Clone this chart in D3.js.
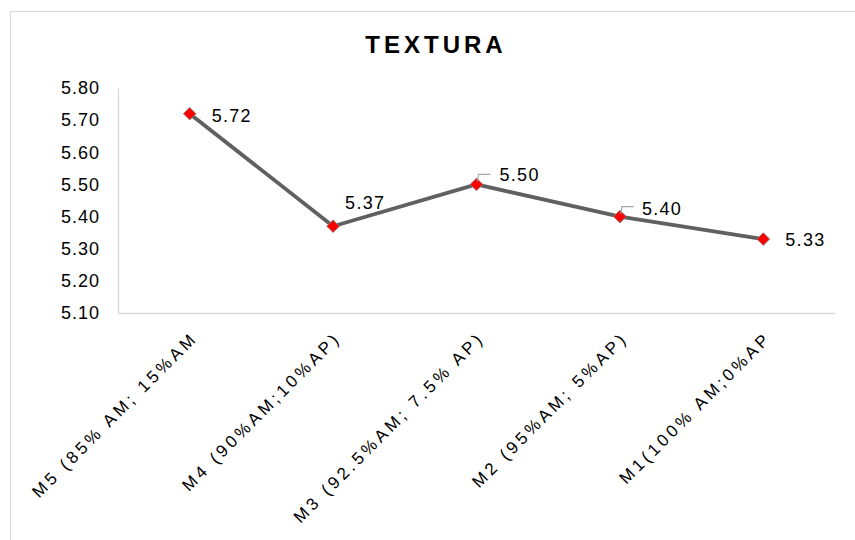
<!DOCTYPE html>
<html>
<head>
<meta charset="utf-8">
<script src="https://cdn.jsdelivr.net/npm/d3@7"></script>
<style>
  html, body { margin: 0; padding: 0; background: #fff; }
  text { font-family: "Liberation Sans", Arial, sans-serif; fill: #000; }
</style>
</head>
<body>
<script>
const title = 'TEXTURA';
const categories = [
  'M5 (85% AM; 15%AM',
  'M4 (90%AM;10%AP)',
  'M3 (92.5%AM; 7.5% AP)',
  'M2 (95%AM; 5%AP)',
  'M1(100% AM;0%AP'
];
const values = [5.72, 5.37, 5.50, 5.40, 5.33];
const yTicks = [5.10, 5.20, 5.30, 5.40, 5.50, 5.60, 5.70, 5.80];

// where each data label sits relative to its point (dx, dy), and if it has a leader line
const labelPos = [
  { dx: 22, dy: 8, leader: false },
  { dx: 12, dy: -17, leader: false },
  { dx: 23, dy: -3, leader: true },
  { dx: 22, dy: -2, leader: true },
  { dx: 22, dy: 7, leader: false }
];

const width = 855;
const height = 540;

const svg = d3.select('body')
  .append('svg')
  .attr('width', width)
  .attr('height', height);

// chart area border (runs off the right / bottom of the picture)
svg.append('rect')
  .attr('x', 10.5)
  .attr('y', 11.5)
  .attr('width', 900)
  .attr('height', 600)
  .attr('fill', '#fff')
  .attr('stroke', '#d9d9d9')
  .attr('stroke-width', 1.2);

const x = d3.scaleBand().domain(categories).range([118, 835]).padding(0);
const y = d3.scaleLinear().domain([5.1, 5.8]).range([313, 88]);

svg.append('text')
  .attr('x', 436)
  .attr('y', 53)
  .attr('text-anchor', 'middle')
  .style('font-size', '24px')
  .style('font-weight', 'bold')
  .style('letter-spacing', '4px')
  .text(title);

// y axis
const yAxis = svg.append('g')
  .attr('transform', 'translate(118,0)')
  .call(d3.axisLeft(y).tickValues(yTicks).tickFormat(d3.format('.2f')).tickSize(0).tickPadding(18));
yAxis.select('.domain').attr('stroke', '#d9d9d9').attr('stroke-width', 1.3);
yAxis.selectAll('text')
  .style('font-size', '18px')
  .style('letter-spacing', '1px')
  .style('font-family', '"Liberation Sans", Arial, sans-serif')
  .attr('fill', '#000');

// x axis
const xAxis = svg.append('g')
  .attr('transform', 'translate(0,313)')
  .call(d3.axisBottom(x).tickSize(0).tickFormat(''));
xAxis.select('.domain').attr('stroke', '#d9d9d9').attr('stroke-width', 1.3);

svg.append('g')
  .selectAll('text')
  .data(categories)
  .join('text')
  .attr('transform', d => `translate(${x(d) + x.bandwidth() / 2 + 9},339) rotate(-45)`)
  .attr('text-anchor', 'end')
  .style('font-size', '17px')
  .style('letter-spacing', '3.5px')
  .text(d => d);

const pts = categories.map((c, i) => [x(c) + x.bandwidth() / 2, y(values[i])]);

svg.append('path')
  .datum(pts)
  .attr('d', d3.line())
  .attr('fill', 'none')
  .attr('stroke', '#606060')
  .attr('stroke-width', 3.8)
  .attr('stroke-linejoin', 'round');

svg.append('g')
  .selectAll('path')
  .data(pts)
  .join('path')
  .attr('transform', d => `translate(${d[0]},${d[1]}) rotate(45)`)
  .attr('d', d3.symbol(d3.symbolSquare, 80))
  .attr('fill', '#ff0000')
  .attr('stroke', '#7f7f7f')
  .attr('stroke-width', 0.8);

// leader lines
svg.append('g')
  .selectAll('path')
  .data(pts.filter((p, i) => labelPos[i].leader))
  .join('path')
  .attr('d', d => `M${d[0] + 1},${d[1] - 3}L${d[0] + 2},${d[1] - 10}L${d[0] + 14},${d[1] - 10}`)
  .attr('fill', 'none')
  .attr('stroke', '#a6a6a6')
  .attr('stroke-width', 1.2);

svg.append('g')
  .selectAll('text')
  .data(values)
  .join('text')
  .attr('x', (d, i) => pts[i][0] + labelPos[i].dx)
  .attr('y', (d, i) => pts[i][1] + labelPos[i].dy)
  .style('font-size', '18px')
  .style('letter-spacing', '1.3px')
  .text(d => d3.format('.2f')(d));
</script>
</body>
</html>
